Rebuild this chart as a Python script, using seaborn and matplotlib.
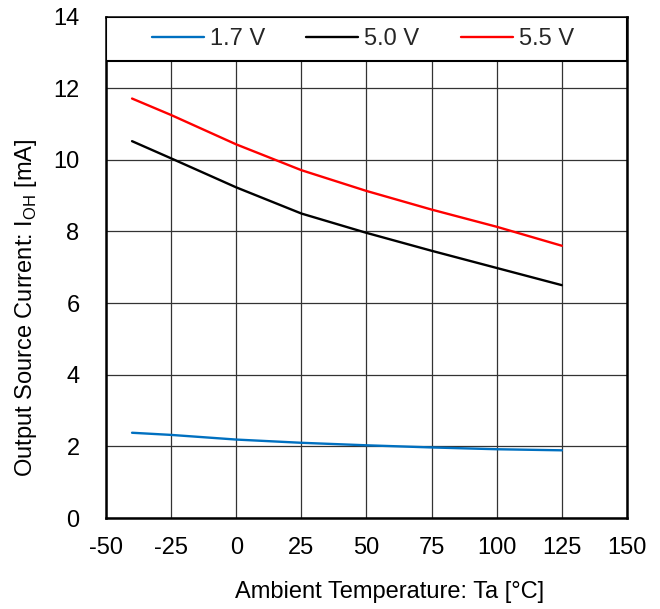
import matplotlib
matplotlib.use("Agg")
import matplotlib.pyplot as plt
from matplotlib.patches import Rectangle
import numpy as np
import pandas as pd
import seaborn as sns

# Ambient temperature sample points [°C]
temperature = [-40, -25, 0, 25, 50, 75, 100, 125]

# Output source current I_OH [mA] per supply voltage
ioh_1v7 = [2.38, 2.32, 2.19, 2.10, 2.03, 1.97, 1.92, 1.89]
ioh_5v0 = [10.52, 10.04, 9.23, 8.50, 7.96, 7.46, 6.98, 6.50]
ioh_5v5 = [11.71, 11.25, 10.43, 9.71, 9.13, 8.61, 8.13, 7.60]

series_labels = ["1.7 V", "5.0 V", "5.5 V"]
series_colors = ["#0070C0", "#000000", "#FF0000"]

x_ticks = [-50, -25, 0, 25, 50, 75, 100, 125, 150]
y_ticks = [0, 2, 4, 6, 8, 10, 12, 14]

df = pd.DataFrame({
    "Ta": temperature * 3,
    "IOH": ioh_1v7 + ioh_5v0 + ioh_5v5,
    "Vdd": sum([[lab] * len(temperature) for lab in series_labels], []),
})

sns.set_theme(style="white")
plt.rcParams["font.family"] = ["Liberation Sans", "DejaVu Sans"]
plt.rcParams["mathtext.fontset"] = "custom"
plt.rcParams["mathtext.rm"] = "Liberation Sans"

FS = 17

fig = plt.figure(figsize=(6.6, 6.09), dpi=100)
ax = fig.add_axes([0.1606, 0.1494, 0.7894, 0.8235])

sns.lineplot(data=df, x="Ta", y="IOH", hue="Vdd", hue_order=series_labels,
             palette=dict(zip(series_labels, series_colors)),
             linewidth=1.7, ax=ax, zorder=3, legend=False)

ax.set_xlim(-50, 150)
ax.set_ylim(0, 14)
ax.set_xticks(x_ticks)
ax.set_yticks(y_ticks)
ax.set_xticklabels([str(v) for v in x_ticks])
ax.set_yticklabels([str(v) for v in y_ticks])

ax.grid(True, color="#333333", linewidth=0.9)
ax.set_axisbelow(True)
for s in ax.spines.values():
    s.set_visible(True)
    s.set_color("black")
    s.set_linewidth(1.8)

ax.tick_params(axis="both", length=0, labelsize=FS, colors="black")
ax.tick_params(axis="y", pad=19)
ax.tick_params(axis="x", pad=14)

ax.set_xlabel("Ambient Temperature: Ta [°C]", fontsize=FS, color="black", labelpad=14)
ax.set_ylabel(r"Output Source Current: I$_{\mathregular{OH}}$ [mA]",
              fontsize=FS, color="black", labelpad=10)
ax.xaxis.set_label_coords(0.545, -0.125)
ax.yaxis.get_label().set_y(0.42)

# White legend strip across the top of the plot area
legend_bottom = 12.75
strip = Rectangle((0, legend_bottom / 14), 1, 1 - legend_bottom / 14,
                  transform=ax.transAxes, facecolor="white", edgecolor="black",
                  linewidth=1.5, zorder=4)
ax.add_patch(strip)

handles = [plt.Line2D([], [], color=c, linewidth=1.7) for c in series_colors]
ax.legend(handles, series_labels, loc="center", ncol=3, frameon=False,
          bbox_to_anchor=(0.493, (legend_bottom / 14 + 1) / 2),
          fontsize=FS, handlelength=2.2, handletextpad=0.25,
          columnspacing=1.75).set_zorder(5)

fig.savefig("out.png", dpi=100, facecolor="white")
